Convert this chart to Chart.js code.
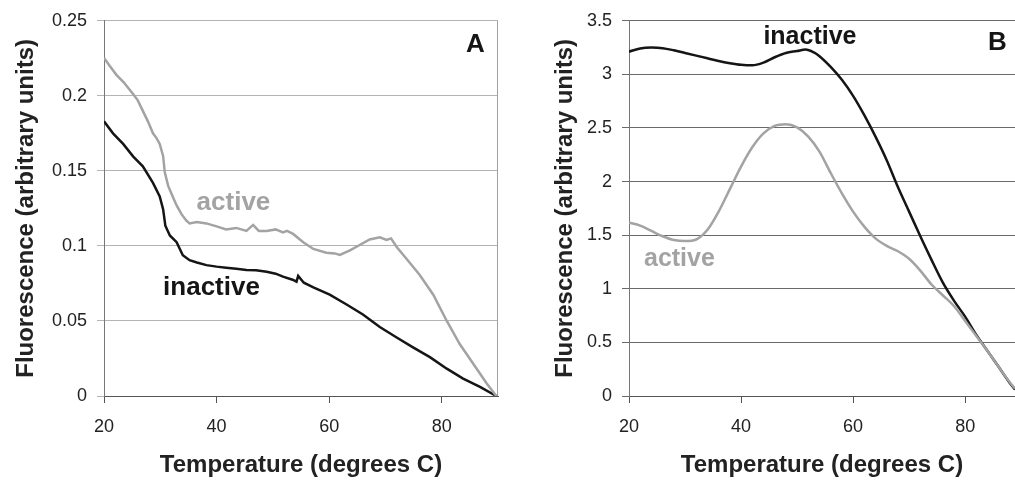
<!DOCTYPE html>
<html>
<head>
<meta charset="utf-8">
<script src="https://cdn.jsdelivr.net/npm/chart.js@4.4.1/dist/chart.umd.min.js"></script>
<style>
  html, body { margin: 0; padding: 0; background: #ffffff; }
  #wrap { position: relative; width: 1015px; height: 485px; overflow: hidden; background: #fff; }
  #cA { position: absolute; left: 0; top: 0; }
  #cB { position: absolute; left: 505px; top: 0; }
</style>
</head>
<body>
<div id="wrap">
  <canvas id="cA" width="510" height="485"></canvas>
  <canvas id="cB" width="510" height="485"></canvas>
</div>
<script>
// ---------- Panel A data ----------
const tempA_active   = [20, 21.0, 22.2, 23.5, 25.2, 26.0, 26.9, 27.8, 28.7, 29.3, 29.9, 30.5, 30.8, 31.4, 32.2, 32.9, 33.8, 34.6, 35.2, 36.5, 38.2, 40.0, 41.7, 43.5, 45.3, 46.5, 47.5, 48.9, 50.5, 51.8, 52.5, 53.6, 55.4, 57.2, 59.5, 61.0, 61.9, 63.7, 65.5, 67.2, 69.0, 70.2, 71.0, 72.0, 73.7, 76.1, 78.5, 80.9, 83.2, 85.6, 88.0, 89.7];
const fluorA_active  = [0.2253, 0.220, 0.214, 0.209, 0.201, 0.197, 0.190, 0.183, 0.175, 0.172, 0.168, 0.160, 0.149, 0.140, 0.133, 0.127, 0.121, 0.117, 0.115, 0.116, 0.115, 0.113, 0.111, 0.112, 0.110, 0.114, 0.110, 0.110, 0.111, 0.109, 0.110, 0.108, 0.1025, 0.098, 0.0955, 0.095, 0.094, 0.097, 0.1008, 0.1043, 0.1058, 0.104, 0.105, 0.0993, 0.0916, 0.0806, 0.0675, 0.050, 0.0346, 0.0215, 0.0083, 0.0];

const tempA_inactive  = [20, 21.6, 23.4, 25.2, 26.9, 28.7, 29.9, 30.5, 30.9, 31.7, 32.9, 34.0, 35.2, 36.5, 38.2, 40.0, 41.7, 43.5, 45.3, 47.0, 48.9, 50.5, 51.8, 53.5, 54.2, 54.5, 55.5, 57.2, 60.1, 63.1, 66.0, 69.0, 72.0, 74.9, 77.9, 80.9, 83.8, 86.8, 89.7];
const fluorA_inactive = [0.183, 0.175, 0.168, 0.1595, 0.153, 0.142, 0.133, 0.1245, 0.1135, 0.107, 0.1025, 0.0938, 0.0905, 0.089, 0.0872, 0.0862, 0.0855, 0.0848, 0.084, 0.0838, 0.0828, 0.0815, 0.0795, 0.0775, 0.0762, 0.0800, 0.0755, 0.0723, 0.0675, 0.061, 0.0543, 0.046, 0.039, 0.0324, 0.0259, 0.0182, 0.0116, 0.0061, 0.0];

const ticksA_y = [0, 0.05, 0.1, 0.15, 0.2, 0.25];
const ticksX = [20, 40, 60, 80];

// ---------- Panel B data ----------
const tempB_inactive  = [20, 22, 24, 26, 28, 30, 32, 34, 36, 38, 40, 42, 44, 46, 48, 50, 51.5, 53, 54, 56, 58, 60, 62, 64, 66, 68, 70, 72, 74, 76, 78, 80, 82, 84, 86, 88, 88.9];
const fluorB_inactive = [3.212, 3.242, 3.25, 3.245, 3.225, 3.20, 3.175, 3.15, 3.125, 3.105, 3.09, 3.085, 3.11, 3.16, 3.20, 3.218, 3.232, 3.205, 3.17, 3.07, 2.95, 2.80, 2.62, 2.42, 2.20, 1.95, 1.72, 1.49, 1.27, 1.06, 0.89, 0.74, 0.57, 0.42, 0.27, 0.12, 0.06];

const tempB_active  = [20, 22, 24, 26, 28, 30, 32, 34, 36, 38, 40, 42, 44, 46, 48, 50, 52, 54, 56, 58, 60, 62, 64, 66, 68, 70, 72, 74, 76, 78, 80, 82, 84, 86, 88, 88.9];
const fluorB_active = [1.617, 1.59, 1.54, 1.49, 1.455, 1.445, 1.46, 1.55, 1.72, 1.93, 2.14, 2.32, 2.45, 2.52, 2.535, 2.505, 2.42, 2.28, 2.08, 1.89, 1.72, 1.58, 1.47, 1.40, 1.35, 1.28, 1.17, 1.04, 0.94, 0.84, 0.70, 0.56, 0.42, 0.27, 0.125, 0.07];

const ticksB_y = [0, 0.5, 1, 1.5, 2, 2.5, 3, 3.5];

// ---------- Text labels (data coordinates) ----------
const labelsA = [
  { text: 'active',   x: 43.0, y: 0.129,  color: '#a3a3a3', size: 26 },
  { text: 'inactive', x: 39.1, y: 0.0724, color: '#151515', size: 26 },
  { text: 'A',        x: 86.0, y: 0.234,  color: '#151515', size: 26 }
];
const labelsB = [
  { text: 'inactive', x: 52.3, y: 3.352, color: '#151515', size: 25 },
  { text: 'active',   x: 29.0, y: 1.28,  color: '#a3a3a3', size: 25 },
  { text: 'B',        x: 85.75, y: 3.296, color: '#151515', size: 26 }
];

const FONT = '"Liberation Sans", Arial, Helvetica, sans-serif';
const xTitle = 'Temperature (degrees C)';
const yTitle = 'Fluorescence (arbitrary units)';

function zip(xs, ys) { return xs.map((x, i) => ({ x: x, y: ys[i] })); }

const labelPlugin = {
  id: 'labelPlugin',
  afterDatasetsDraw(chart, args, opts) {
    const ctx = chart.ctx;
    const xs = chart.scales.x, ys = chart.scales.y;
    const ca = chart.chartArea;
    ctx.save();
    if (opts.rightBorder) {
      ctx.strokeStyle = opts.borderColor;
      ctx.lineWidth = 1;
      ctx.beginPath();
      ctx.moveTo(Math.round(ca.right) - 0.5, ca.top);
      ctx.lineTo(Math.round(ca.right) - 0.5, ca.bottom);
      ctx.stroke();
    }
    (opts.items || []).forEach(l => {
      ctx.font = 'bold ' + l.size + 'px ' + FONT;
      ctx.fillStyle = l.color;
      ctx.textAlign = 'center';
      ctx.textBaseline = 'middle';
      ctx.fillText(l.text, xs.getPixelForValue(l.x), ys.getPixelForValue(l.y));
    });
    ctx.restore();
  }
};

function makeChart(id, cfg) {
  const ctx = document.getElementById(id);
  return new Chart(ctx, {
    type: 'line',
    data: {
      datasets: [
        { label: 'active', data: zip(cfg.tA, cfg.fA), borderColor: '#a3a3a3', borderWidth: cfg.lw, pointRadius: 0, tension: cfg.tension, cubicInterpolationMode: cfg.interp, fill: false },
        { label: 'inactive', data: zip(cfg.tI, cfg.fI), borderColor: '#151515', borderWidth: cfg.lw, pointRadius: 0, tension: cfg.tension, cubicInterpolationMode: cfg.interp, fill: false }
      ]
    },
    options: {
      responsive: false,
      devicePixelRatio: 1,
      animation: false,
      events: [],
      layout: { padding: { top: cfg.padTop, right: cfg.padRight, left: 0, bottom: 0 } },
      plugins: {
        legend: { display: false },
        tooltip: { enabled: false },
        labelPlugin: { items: cfg.labels, rightBorder: cfg.rightBorder, borderColor: '#a0a0a0' }
      },
      scales: {
        x: {
          type: 'linear',
          min: 20, max: cfg.xMax,
          afterFit: s => { s.height = 89; },
          afterBuildTicks: s => { s.ticks = ticksX.map(v => ({ value: v })); },
          ticks: {
            includeBounds: false,
            color: '#222', padding: 13,
            font: { family: FONT, size: 18 },
            callback: v => String(v)
          },
          grid: { drawOnChartArea: false, drawTicks: true, tickLength: 7, color: '#555' },
          border: { color: '#555', width: 1 },
          title: { display: true, text: xTitle, color: '#222', font: { family: FONT, size: 24, weight: 'bold' }, padding: { top: 0, bottom: 5 } }
        },
        y: {
          type: 'linear',
          min: 0, max: cfg.yMax,
          afterFit: s => { s.width = cfg.yWidth; },
          afterBuildTicks: s => { s.ticks = cfg.yTicks.map(v => ({ value: v })); },
          ticks: {
            color: '#222', padding: 10,
            font: { family: FONT, size: 18 },
            callback: v => String(v)
          },
          grid: { drawOnChartArea: true, drawTicks: true, tickLength: 7, color: cfg.gridColor },
          border: { color: '#777', width: 1 },
          title: { display: true, text: yTitle, color: '#222', font: { family: FONT, size: 24, weight: 'bold' }, padding: { top: cfg.yTitlePad, bottom: 0 } }
        }
      }
    },
    plugins: [labelPlugin]
  });
}

makeChart('cA', {
  tA: tempA_active, fA: fluorA_active, tI: tempA_inactive, fI: fluorA_inactive,
  tension: 0, interp: 'default', lw: 2.5, padTop: 16, padRight: 12, xMax: 90, yMax: 0.25, yTicks: ticksA_y,
  yWidth: 104, yTitlePad: 12, gridColor: '#b4b4b4', labels: labelsA, rightBorder: true
});
makeChart('cB', {
  tA: tempB_active, fA: fluorB_active, tI: tempB_inactive, fI: fluorB_inactive,
  tension: 0.4, interp: 'monotone', lw: 2.5, padTop: 19, padRight: 0, xMax: 88.9, yMax: 3.5, yTicks: ticksB_y,
  yWidth: 124, yTitlePad: 46, gridColor: '#6a6a6a', labels: labelsB, rightBorder: false
});
</script>
</body>
</html>
